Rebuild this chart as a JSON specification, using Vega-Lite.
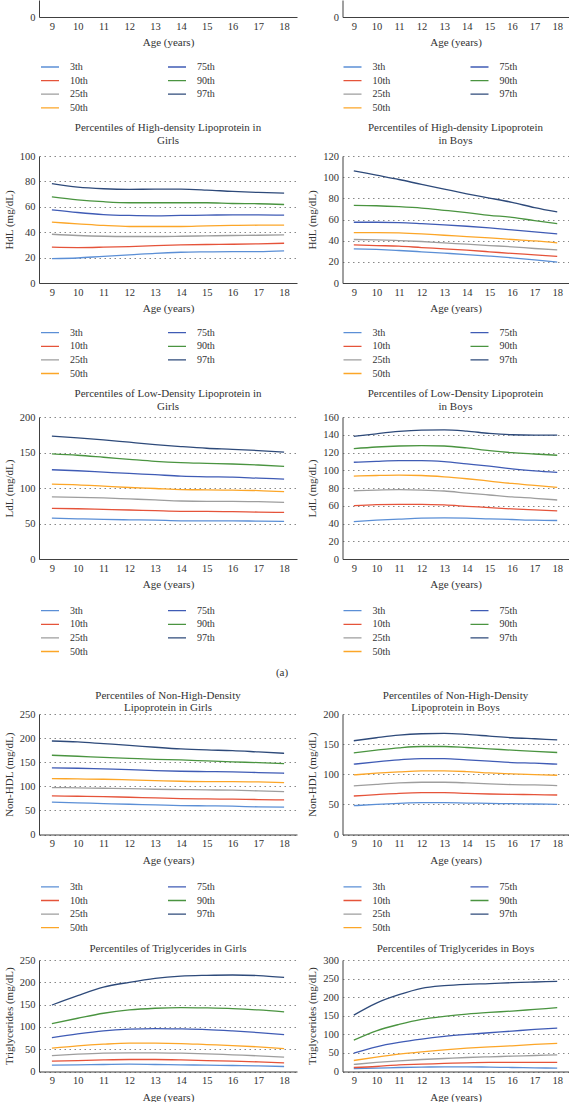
{
"$schema": "https://vega.github.io/schema/vega-lite/v6.json",
"padding": {"left": 3, "top": 0, "right": 0, "bottom": 0},
"background": "white",
"config": {
  "view": {"stroke": null},
  "font": "Liberation Serif",
  "line": {"interpolate": "monotone", "strokeWidth": 1.3},
  "title": {"font": "Liberation Serif", "fontSize": 11, "fontWeight": "normal", "color": "#333333", "lineHeight": 12.7, "anchor": "middle"},
  "axis": {"labelFont": "Liberation Serif", "titleFont": "Liberation Serif", "labelFontSize": 10.5, "titleFontSize": 11, "titleFontWeight": "normal", "labelColor": "#333333", "titleColor": "#333333", "ticks": false, "domainColor": "#404040", "labelPadding": 4, "titlePadding": 5},
  "axisX": {"grid": false, "labelAngle": 0, "domainWidth": 1.2},
  "axisY": {"grid": true, "gridDash": [1.5, 3.5], "gridColor": "#888888", "domainWidth": 1},
  "legend": {"orient": "none", "columns": 2, "symbolType": "stroke", "symbolSize": 324, "symbolStrokeWidth": 1.6, "labelFont": "Liberation Serif", "labelFontSize": 10, "labelColor": "#333333", "clipHeight": 10, "rowPadding": 3.6, "columnPadding": 79, "labelOffset": 10, "padding": 0}
},
"datasets": {
"top": [],
"hdl_g": [
{"age":9,"p":"3th","v":19.2},{"age":10,"p":"3th","v":19.7},{"age":11,"p":"3th","v":21},{"age":12,"p":"3th","v":22.1},{"age":13,"p":"3th","v":23.4},{"age":14,"p":"3th","v":24.2},{"age":15,"p":"3th","v":24.5},{"age":16,"p":"3th","v":24.7},{"age":17,"p":"3th","v":24.7},{"age":18,"p":"3th","v":25.3},
{"age":9,"p":"10th","v":28.2},{"age":10,"p":"10th","v":27.9},{"age":11,"p":"10th","v":28.2},{"age":12,"p":"10th","v":28.7},{"age":13,"p":"10th","v":29.5},{"age":14,"p":"10th","v":30},{"age":15,"p":"10th","v":30.3},{"age":16,"p":"10th","v":30.5},{"age":17,"p":"10th","v":30.8},{"age":18,"p":"10th","v":31.3},
{"age":9,"p":"25th","v":38.4},{"age":10,"p":"25th","v":37.4},{"age":11,"p":"25th","v":36.8},{"age":12,"p":"25th","v":36.6},{"age":13,"p":"25th","v":36.6},{"age":14,"p":"25th","v":36.8},{"age":15,"p":"25th","v":37.1},{"age":16,"p":"25th","v":37.4},{"age":17,"p":"25th","v":37.6},{"age":18,"p":"25th","v":37.9},
{"age":9,"p":"50th","v":47.9},{"age":10,"p":"50th","v":46.6},{"age":11,"p":"50th","v":45.3},{"age":12,"p":"50th","v":44.5},{"age":13,"p":"50th","v":44.5},{"age":14,"p":"50th","v":44.5},{"age":15,"p":"50th","v":45},{"age":16,"p":"50th","v":45.3},{"age":17,"p":"50th","v":45.5},{"age":18,"p":"50th","v":45.5},
{"age":9,"p":"75th","v":57.6},{"age":10,"p":"75th","v":55.5},{"age":11,"p":"75th","v":53.9},{"age":12,"p":"75th","v":53.2},{"age":13,"p":"75th","v":52.9},{"age":14,"p":"75th","v":53.2},{"age":15,"p":"75th","v":53.4},{"age":16,"p":"75th","v":53.7},{"age":17,"p":"75th","v":53.7},{"age":18,"p":"75th","v":53.4},
{"age":9,"p":"90th","v":67.9},{"age":10,"p":"90th","v":65.5},{"age":11,"p":"90th","v":64},{"age":12,"p":"90th","v":63.2},{"age":13,"p":"90th","v":63.2},{"age":14,"p":"90th","v":63.2},{"age":15,"p":"90th","v":63.2},{"age":16,"p":"90th","v":62.6},{"age":17,"p":"90th","v":62.4},{"age":18,"p":"90th","v":61.8},
{"age":9,"p":"97th","v":78.2},{"age":10,"p":"97th","v":75.5},{"age":11,"p":"97th","v":74.2},{"age":12,"p":"97th","v":73.7},{"age":13,"p":"97th","v":73.9},{"age":14,"p":"97th","v":73.9},{"age":15,"p":"97th","v":73.2},{"age":16,"p":"97th","v":72.1},{"age":17,"p":"97th","v":71.3},{"age":18,"p":"97th","v":70.8}
],
"hdl_b": [
{"age":9,"p":"3th","v":32.3},{"age":10,"p":"3th","v":31.7},{"age":11,"p":"3th","v":30.7},{"age":12,"p":"3th","v":29.5},{"age":13,"p":"3th","v":28.2},{"age":14,"p":"3th","v":26.9},{"age":15,"p":"3th","v":25.4},{"age":16,"p":"3th","v":23.8},{"age":17,"p":"3th","v":21.9},{"age":18,"p":"3th","v":19.7},
{"age":9,"p":"10th","v":36.1},{"age":10,"p":"10th","v":35.4},{"age":11,"p":"10th","v":34.8},{"age":12,"p":"10th","v":33.5},{"age":13,"p":"10th","v":32.3},{"age":14,"p":"10th","v":31},{"age":15,"p":"10th","v":29.5},{"age":16,"p":"10th","v":27.9},{"age":17,"p":"10th","v":26.6},{"age":18,"p":"10th","v":25.1},
{"age":9,"p":"25th","v":41.1},{"age":10,"p":"25th","v":40.8},{"age":11,"p":"25th","v":40.1},{"age":12,"p":"25th","v":39.2},{"age":13,"p":"25th","v":37.9},{"age":14,"p":"25th","v":36.7},{"age":15,"p":"25th","v":35.4},{"age":16,"p":"25th","v":34.2},{"age":17,"p":"25th","v":32.6},{"age":18,"p":"25th","v":31.3},
{"age":9,"p":"50th","v":47.6},{"age":10,"p":"50th","v":47.6},{"age":11,"p":"50th","v":47.3},{"age":12,"p":"50th","v":46.4},{"age":13,"p":"50th","v":45.1},{"age":14,"p":"50th","v":43.9},{"age":15,"p":"50th","v":42.6},{"age":16,"p":"50th","v":41.1},{"age":17,"p":"50th","v":39.8},{"age":18,"p":"50th","v":37.9},
{"age":9,"p":"75th","v":57.4},{"age":10,"p":"75th","v":57.4},{"age":11,"p":"75th","v":57.1},{"age":12,"p":"75th","v":56.1},{"age":13,"p":"75th","v":54.9},{"age":14,"p":"75th","v":53.6},{"age":15,"p":"75th","v":52},{"age":16,"p":"75th","v":50.2},{"age":17,"p":"75th","v":48.3},{"age":18,"p":"75th","v":46.4},
{"age":9,"p":"90th","v":73.4},{"age":10,"p":"90th","v":73},{"age":11,"p":"90th","v":72.1},{"age":12,"p":"90th","v":70.8},{"age":13,"p":"90th","v":68.7},{"age":14,"p":"90th","v":66.5},{"age":15,"p":"90th","v":63.9},{"age":16,"p":"90th","v":62.1},{"age":17,"p":"90th","v":58.9},{"age":18,"p":"90th","v":56.1},
{"age":9,"p":"97th","v":106},{"age":10,"p":"97th","v":101.9},{"age":11,"p":"97th","v":97.8},{"age":12,"p":"97th","v":93.1},{"age":13,"p":"97th","v":88.7},{"age":14,"p":"97th","v":84.3},{"age":15,"p":"97th","v":80.3},{"age":16,"p":"97th","v":76.2},{"age":17,"p":"97th","v":71.2},{"age":18,"p":"97th","v":67.1}
],
"ldl_g": [
{"age":9,"p":"3th","v":57.6},{"age":10,"p":"3th","v":56.6},{"age":11,"p":"3th","v":55.7},{"age":12,"p":"3th","v":55.2},{"age":13,"p":"3th","v":54.8},{"age":14,"p":"3th","v":53.8},{"age":15,"p":"3th","v":53.8},{"age":16,"p":"3th","v":53.8},{"age":17,"p":"3th","v":53.3},{"age":18,"p":"3th","v":52.9},
{"age":9,"p":"10th","v":71.3},{"age":10,"p":"10th","v":70.8},{"age":11,"p":"10th","v":69.9},{"age":12,"p":"10th","v":69},{"age":13,"p":"10th","v":68},{"age":14,"p":"10th","v":67.1},{"age":15,"p":"10th","v":67.1},{"age":16,"p":"10th","v":66.6},{"age":17,"p":"10th","v":66.1},{"age":18,"p":"10th","v":65.6},
{"age":9,"p":"25th","v":87.4},{"age":10,"p":"25th","v":86.9},{"age":11,"p":"25th","v":86},{"age":12,"p":"25th","v":84.6},{"age":13,"p":"25th","v":83.2},{"age":14,"p":"25th","v":81.7},{"age":15,"p":"25th","v":81.3},{"age":16,"p":"25th","v":81.3},{"age":17,"p":"25th","v":80.8},{"age":18,"p":"25th","v":79.8},
{"age":9,"p":"50th","v":105.4},{"age":10,"p":"50th","v":104.5},{"age":11,"p":"50th","v":102.6},{"age":12,"p":"50th","v":100.7},{"age":13,"p":"50th","v":99.3},{"age":14,"p":"50th","v":97.8},{"age":15,"p":"50th","v":97.4},{"age":16,"p":"50th","v":96.9},{"age":17,"p":"50th","v":96.4},{"age":18,"p":"50th","v":95},
{"age":9,"p":"75th","v":125.7},{"age":10,"p":"75th","v":124.3},{"age":11,"p":"75th","v":122.4},{"age":12,"p":"75th","v":120.5},{"age":13,"p":"75th","v":118.7},{"age":14,"p":"75th","v":116.8},{"age":15,"p":"75th","v":115.8},{"age":16,"p":"75th","v":115.3},{"age":17,"p":"75th","v":113.9},{"age":18,"p":"75th","v":112.5},
{"age":9,"p":"90th","v":148},{"age":10,"p":"90th","v":146.1},{"age":11,"p":"90th","v":143.3},{"age":12,"p":"90th","v":140.4},{"age":13,"p":"90th","v":137.6},{"age":14,"p":"90th","v":135.7},{"age":15,"p":"90th","v":134.7},{"age":16,"p":"90th","v":133.8},{"age":17,"p":"90th","v":132.4},{"age":18,"p":"90th","v":130.5},
{"age":9,"p":"97th","v":173},{"age":10,"p":"97th","v":170.7},{"age":11,"p":"97th","v":167.9},{"age":12,"p":"97th","v":164.5},{"age":13,"p":"97th","v":161.2},{"age":14,"p":"97th","v":158.4},{"age":15,"p":"97th","v":156},{"age":16,"p":"97th","v":154.5},{"age":17,"p":"97th","v":152.7},{"age":18,"p":"97th","v":150.4}
],
"ldl_b": [
{"age":9,"p":"3th","v":42.2},{"age":10,"p":"3th","v":43.7},{"age":11,"p":"3th","v":44.9},{"age":12,"p":"3th","v":46},{"age":13,"p":"3th","v":46.3},{"age":14,"p":"3th","v":46},{"age":15,"p":"3th","v":45.2},{"age":16,"p":"3th","v":44.5},{"age":17,"p":"3th","v":43.7},{"age":18,"p":"3th","v":43.4},
{"age":9,"p":"10th","v":60.1},{"age":10,"p":"10th","v":61.3},{"age":11,"p":"10th","v":61.6},{"age":12,"p":"10th","v":61.6},{"age":13,"p":"10th","v":60.9},{"age":14,"p":"10th","v":59.4},{"age":15,"p":"10th","v":57.9},{"age":16,"p":"10th","v":56.4},{"age":17,"p":"10th","v":55.3},{"age":18,"p":"10th","v":54.2},
{"age":9,"p":"25th","v":76.9},{"age":10,"p":"25th","v":77.7},{"age":11,"p":"25th","v":78.1},{"age":12,"p":"25th","v":77.7},{"age":13,"p":"25th","v":76.6},{"age":14,"p":"25th","v":74.3},{"age":15,"p":"25th","v":72.1},{"age":16,"p":"25th","v":69.9},{"age":17,"p":"25th","v":68.4},{"age":18,"p":"25th","v":66.5},
{"age":9,"p":"50th","v":93.4},{"age":10,"p":"50th","v":94.1},{"age":11,"p":"50th","v":94.5},{"age":12,"p":"50th","v":94.1},{"age":13,"p":"50th","v":92.6},{"age":14,"p":"50th","v":90.4},{"age":15,"p":"50th","v":87.8},{"age":16,"p":"50th","v":85.1},{"age":17,"p":"50th","v":82.9},{"age":18,"p":"50th","v":80.7},
{"age":9,"p":"75th","v":109},{"age":10,"p":"75th","v":110.1},{"age":11,"p":"75th","v":110.9},{"age":12,"p":"75th","v":110.9},{"age":13,"p":"75th","v":109.8},{"age":14,"p":"75th","v":107.2},{"age":15,"p":"75th","v":104.6},{"age":16,"p":"75th","v":101.6},{"age":17,"p":"75th","v":99.3},{"age":18,"p":"75th","v":97.5},
{"age":9,"p":"90th","v":124.3},{"age":10,"p":"90th","v":126.2},{"age":11,"p":"90th","v":127.3},{"age":12,"p":"90th","v":127.7},{"age":13,"p":"90th","v":127.3},{"age":14,"p":"90th","v":125.1},{"age":15,"p":"90th","v":122.1},{"age":16,"p":"90th","v":119.8},{"age":17,"p":"90th","v":118.3},{"age":18,"p":"90th","v":116.9},
{"age":9,"p":"97th","v":138.1},{"age":10,"p":"97th","v":141.1},{"age":11,"p":"97th","v":143.7},{"age":12,"p":"97th","v":145.2},{"age":13,"p":"97th","v":145.6},{"age":14,"p":"97th","v":144.1},{"age":15,"p":"97th","v":141.5},{"age":16,"p":"97th","v":140},{"age":17,"p":"97th","v":139.6},{"age":18,"p":"97th","v":139.6}
],
"nhdl_g": [
{"age":9,"p":"3th","v":67},{"age":10,"p":"3th","v":65.6},{"age":11,"p":"3th","v":64.2},{"age":12,"p":"3th","v":62.8},{"age":13,"p":"3th","v":61.5},{"age":14,"p":"3th","v":60.1},{"age":15,"p":"3th","v":59.4},{"age":16,"p":"3th","v":58.7},{"age":17,"p":"3th","v":57.3},{"age":18,"p":"3th","v":56.6},
{"age":9,"p":"10th","v":80.1},{"age":10,"p":"10th","v":79.4},{"age":11,"p":"10th","v":78.7},{"age":12,"p":"10th","v":77.3},{"age":13,"p":"10th","v":76},{"age":14,"p":"10th","v":74.6},{"age":15,"p":"10th","v":73.9},{"age":16,"p":"10th","v":73.2},{"age":17,"p":"10th","v":72.5},{"age":18,"p":"10th","v":71.8},
{"age":9,"p":"25th","v":97.4},{"age":10,"p":"25th","v":96.7},{"age":11,"p":"25th","v":96},{"age":12,"p":"25th","v":95.3},{"age":13,"p":"25th","v":93.9},{"age":14,"p":"25th","v":93.2},{"age":15,"p":"25th","v":92.5},{"age":16,"p":"25th","v":91.9},{"age":17,"p":"25th","v":90.5},{"age":18,"p":"25th","v":89.1},
{"age":9,"p":"50th","v":116},{"age":10,"p":"50th","v":115.3},{"age":11,"p":"50th","v":114.6},{"age":12,"p":"50th","v":113.3},{"age":13,"p":"50th","v":111.9},{"age":14,"p":"50th","v":110.5},{"age":15,"p":"50th","v":109.8},{"age":16,"p":"50th","v":109.8},{"age":17,"p":"50th","v":109.1},{"age":18,"p":"50th","v":107.7},
{"age":9,"p":"75th","v":138.1},{"age":10,"p":"75th","v":137.4},{"age":11,"p":"75th","v":136},{"age":12,"p":"75th","v":134.7},{"age":13,"p":"75th","v":132.6},{"age":14,"p":"75th","v":131.2},{"age":15,"p":"75th","v":130.5},{"age":16,"p":"75th","v":129.8},{"age":17,"p":"75th","v":128.5},{"age":18,"p":"75th","v":127.1},
{"age":9,"p":"90th","v":164.4},{"age":10,"p":"90th","v":162.3},{"age":11,"p":"90th","v":160.2},{"age":12,"p":"90th","v":158.1},{"age":13,"p":"90th","v":156},{"age":14,"p":"90th","v":154.7},{"age":15,"p":"90th","v":152.6},{"age":16,"p":"90th","v":150.6},{"age":17,"p":"90th","v":149.2},{"age":18,"p":"90th","v":147.1},
{"age":9,"p":"97th","v":194},{"age":10,"p":"97th","v":192},{"age":11,"p":"97th","v":188.5},{"age":12,"p":"97th","v":185},{"age":13,"p":"97th","v":181},{"age":14,"p":"97th","v":177.5},{"age":15,"p":"97th","v":175.4},{"age":16,"p":"97th","v":174},{"age":17,"p":"97th","v":171.3},{"age":18,"p":"97th","v":168.5}
],
"nhdl_b": [
{"age":9,"p":"3th","v":47.8},{"age":10,"p":"3th","v":50},{"age":11,"p":"3th","v":51.7},{"age":12,"p":"3th","v":52.8},{"age":13,"p":"3th","v":52.8},{"age":14,"p":"3th","v":52.2},{"age":15,"p":"3th","v":51.7},{"age":16,"p":"3th","v":51.1},{"age":17,"p":"3th","v":50.6},{"age":18,"p":"3th","v":50},
{"age":9,"p":"10th","v":63.9},{"age":10,"p":"10th","v":66.1},{"age":11,"p":"10th","v":68.3},{"age":12,"p":"10th","v":69.4},{"age":13,"p":"10th","v":69.4},{"age":14,"p":"10th","v":68.3},{"age":15,"p":"10th","v":67.2},{"age":16,"p":"10th","v":66.7},{"age":17,"p":"10th","v":66.1},{"age":18,"p":"10th","v":65.6},
{"age":9,"p":"25th","v":80.6},{"age":10,"p":"25th","v":83.3},{"age":11,"p":"25th","v":85.6},{"age":12,"p":"25th","v":86.7},{"age":13,"p":"25th","v":86.7},{"age":14,"p":"25th","v":85.6},{"age":15,"p":"25th","v":83.9},{"age":16,"p":"25th","v":82.8},{"age":17,"p":"25th","v":82.2},{"age":18,"p":"25th","v":81.1},
{"age":9,"p":"50th","v":98.9},{"age":10,"p":"50th","v":101.7},{"age":11,"p":"50th","v":103.9},{"age":12,"p":"50th","v":105.6},{"age":13,"p":"50th","v":105.6},{"age":14,"p":"50th","v":104.4},{"age":15,"p":"50th","v":102.2},{"age":16,"p":"50th","v":100.6},{"age":17,"p":"50th","v":99.4},{"age":18,"p":"50th","v":98.3},
{"age":9,"p":"75th","v":116.7},{"age":10,"p":"75th","v":120.6},{"age":11,"p":"75th","v":123.9},{"age":12,"p":"75th","v":126.1},{"age":13,"p":"75th","v":126.1},{"age":14,"p":"75th","v":123.9},{"age":15,"p":"75th","v":121.7},{"age":16,"p":"75th","v":119.4},{"age":17,"p":"75th","v":118.3},{"age":18,"p":"75th","v":116.7},
{"age":9,"p":"90th","v":135.6},{"age":10,"p":"90th","v":140},{"age":11,"p":"90th","v":143.9},{"age":12,"p":"90th","v":146.1},{"age":13,"p":"90th","v":146.1},{"age":14,"p":"90th","v":144.4},{"age":15,"p":"90th","v":142.2},{"age":16,"p":"90th","v":140},{"age":17,"p":"90th","v":137.8},{"age":18,"p":"90th","v":136.1},
{"age":9,"p":"97th","v":155.6},{"age":10,"p":"97th","v":160.6},{"age":11,"p":"97th","v":165},{"age":12,"p":"97th","v":167.2},{"age":13,"p":"97th","v":167.8},{"age":14,"p":"97th","v":166.1},{"age":15,"p":"97th","v":163.3},{"age":16,"p":"97th","v":160.6},{"age":17,"p":"97th","v":158.9},{"age":18,"p":"97th","v":157.2}
],
"tg_g": [
{"age":9,"p":"3th","v":14.2},{"age":10,"p":"3th","v":14.9},{"age":11,"p":"3th","v":15.7},{"age":12,"p":"3th","v":16.4},{"age":13,"p":"3th","v":15.7},{"age":14,"p":"3th","v":14.9},{"age":15,"p":"3th","v":14.2},{"age":16,"p":"3th","v":13.4},{"age":17,"p":"3th","v":12.7},{"age":18,"p":"3th","v":11.2},
{"age":9,"p":"10th","v":23.1},{"age":10,"p":"10th","v":24.6},{"age":11,"p":"10th","v":26.1},{"age":12,"p":"10th","v":26.9},{"age":13,"p":"10th","v":26.9},{"age":14,"p":"10th","v":26.1},{"age":15,"p":"10th","v":24.6},{"age":16,"p":"10th","v":23.1},{"age":17,"p":"10th","v":21.6},{"age":18,"p":"10th","v":19.4},
{"age":9,"p":"25th","v":35.8},{"age":10,"p":"25th","v":38.8},{"age":11,"p":"25th","v":41},{"age":12,"p":"25th","v":41.8},{"age":13,"p":"25th","v":41.8},{"age":14,"p":"25th","v":41},{"age":15,"p":"25th","v":39.6},{"age":16,"p":"25th","v":37.3},{"age":17,"p":"25th","v":35.1},{"age":18,"p":"25th","v":32.1},
{"age":9,"p":"50th","v":52.2},{"age":10,"p":"50th","v":57.5},{"age":11,"p":"50th","v":61.2},{"age":12,"p":"50th","v":63.4},{"age":13,"p":"50th","v":63.4},{"age":14,"p":"50th","v":62.7},{"age":15,"p":"50th","v":60.4},{"age":16,"p":"50th","v":58.2},{"age":17,"p":"50th","v":55.2},{"age":18,"p":"50th","v":51.5},
{"age":9,"p":"75th","v":76.1},{"age":10,"p":"75th","v":84.3},{"age":11,"p":"75th","v":91},{"age":12,"p":"75th","v":94.8},{"age":13,"p":"75th","v":96.3},{"age":14,"p":"75th","v":95.5},{"age":15,"p":"75th","v":94},{"age":16,"p":"75th","v":91},{"age":17,"p":"75th","v":87.3},{"age":18,"p":"75th","v":82.8},
{"age":9,"p":"90th","v":107.5},{"age":10,"p":"90th","v":119.4},{"age":11,"p":"90th","v":130.6},{"age":12,"p":"90th","v":138},{"age":13,"p":"90th","v":141.8},{"age":14,"p":"90th","v":143.3},{"age":15,"p":"90th","v":142.5},{"age":16,"p":"90th","v":141},{"age":17,"p":"90th","v":138},{"age":18,"p":"90th","v":133.6},
{"age":9,"p":"97th","v":149},{"age":10,"p":"97th","v":170},{"age":11,"p":"97th","v":189},{"age":12,"p":"97th","v":200},{"age":13,"p":"97th","v":209},{"age":14,"p":"97th","v":214},{"age":15,"p":"97th","v":215.7},{"age":16,"p":"97th","v":216.4},{"age":17,"p":"97th","v":215},{"age":18,"p":"97th","v":211}
],
"tg_b": [
{"age":9,"p":"3th","v":8.1},{"age":10,"p":"3th","v":9},{"age":11,"p":"3th","v":10.8},{"age":12,"p":"3th","v":11.7},{"age":13,"p":"3th","v":12.6},{"age":14,"p":"3th","v":12.6},{"age":15,"p":"3th","v":11.7},{"age":16,"p":"3th","v":10.8},{"age":17,"p":"3th","v":9.9},{"age":18,"p":"3th","v":9},
{"age":9,"p":"10th","v":10.8},{"age":10,"p":"10th","v":13.5},{"age":11,"p":"10th","v":18},{"age":12,"p":"10th","v":19.8},{"age":13,"p":"10th","v":21.6},{"age":14,"p":"10th","v":23.4},{"age":15,"p":"10th","v":24.3},{"age":16,"p":"10th","v":24.3},{"age":17,"p":"10th","v":24.3},{"age":18,"p":"10th","v":24.3},
{"age":9,"p":"25th","v":18.9},{"age":10,"p":"25th","v":24.3},{"age":11,"p":"25th","v":28.8},{"age":12,"p":"25th","v":32.3},{"age":13,"p":"25th","v":35},{"age":14,"p":"25th","v":37.7},{"age":15,"p":"25th","v":39.5},{"age":16,"p":"25th","v":41.3},{"age":17,"p":"25th","v":43.1},{"age":18,"p":"25th","v":44.9},
{"age":9,"p":"50th","v":29.6},{"age":10,"p":"50th","v":38.6},{"age":11,"p":"50th","v":46.7},{"age":12,"p":"50th","v":53},{"age":13,"p":"50th","v":58.4},{"age":14,"p":"50th","v":62.9},{"age":15,"p":"50th","v":66.5},{"age":16,"p":"50th","v":69.2},{"age":17,"p":"50th","v":72.8},{"age":18,"p":"50th","v":75.5},
{"age":9,"p":"75th","v":49.4},{"age":10,"p":"75th","v":66.5},{"age":11,"p":"75th","v":78.2},{"age":12,"p":"75th","v":87.2},{"age":13,"p":"75th","v":94.3},{"age":14,"p":"75th","v":99.7},{"age":15,"p":"75th","v":104.2},{"age":16,"p":"75th","v":108.7},{"age":17,"p":"75th","v":113.2},{"age":18,"p":"75th","v":116.8},
{"age":9,"p":"90th","v":84.5},{"age":10,"p":"90th","v":109.6},{"age":11,"p":"90th","v":126.7},{"age":12,"p":"90th","v":140.2},{"age":13,"p":"90th","v":148.2},{"age":14,"p":"90th","v":154.5},{"age":15,"p":"90th","v":159},{"age":16,"p":"90th","v":162.6},{"age":17,"p":"90th","v":167.1},{"age":18,"p":"90th","v":171.6},
{"age":9,"p":"97th","v":151.8},{"age":10,"p":"97th","v":184.2},{"age":11,"p":"97th","v":206.6},{"age":12,"p":"97th","v":223.7},{"age":13,"p":"97th","v":230.9},{"age":14,"p":"97th","v":234.5},{"age":15,"p":"97th","v":236.3},{"age":16,"p":"97th","v":239},{"age":17,"p":"97th","v":240.8},{"age":18,"p":"97th","v":242.6}
]
},
"spacing": 2,
"resolve": {"scale": {"color": "independent"}, "legend": {"color": "independent"}},
"vconcat": [
{
"columns": 2, "align": "each", "spacing": {"row": 9, "column": 9.5},
"resolve": {"scale": {"color": "independent", "x": "independent", "y": "independent"}, "legend": {"color": "independent"}},
"concat": [
{"width": 258, "height": 17, "data": {"name": "top"}, "mark": "line",
 "encoding": {
  "x": {"field": "age", "type": "ordinal", "scale": {"type": "point", "padding": 0.5, "domain": [9,10,11,12,13,14,15,16,17,18]}, "axis": {"title": "Age (years)"}},
  "y": {"field": "v", "type": "quantitative", "scale": {"domain": [0, 100]}, "axis": {"values": [0], "title": null, "grid": false}},
  "color": {"field": "p", "type": "nominal", "scale": {"domain": ["3th","10th","25th","50th","75th","90th","97th"], "range": ["#5b8fd6","#e5533a","#9e9e9e","#fca628","#3f5bb5","#4a9440","#2e4a7a"]}, "legend": {"legendX": 1, "legendY": 62, "title": null}}
 }},
{"width": 226, "height": 17, "data": {"name": "top"}, "mark": "line",
 "encoding": {
  "x": {"field": "age", "type": "ordinal", "scale": {"type": "point", "padding": 0.5, "domain": [9,10,11,12,13,14,15,16,17,18]}, "axis": {"title": "Age (years)"}},
  "y": {"field": "v", "type": "quantitative", "scale": {"domain": [0, 100]}, "axis": {"values": [0], "title": null, "grid": false}},
  "color": {"field": "p", "type": "nominal", "scale": {"domain": ["3th","10th","25th","50th","75th","90th","97th"], "range": ["#5b8fd6","#e5533a","#9e9e9e","#fca628","#3f5bb5","#4a9440","#2e4a7a"]}, "legend": {"legendX": 0, "legendY": 62, "title": null}}
 }},
{"width": 258, "height": 127, "title": {"text": ["Percentiles of High-density Lipoprotein in", "Girls"], "offset": 5}, "data": {"name": "hdl_g"}, "mark": "line",
 "encoding": {
  "x": {"field": "age", "type": "ordinal", "scale": {"type": "point", "padding": 0.5, "domain": [9,10,11,12,13,14,15,16,17,18]}, "axis": {"title": "Age (years)"}},
  "y": {"field": "v", "type": "quantitative", "scale": {"domain": [0, 100]}, "axis": {"values": [0,20,40,60,80,100], "title": "HdL (mg/dL)"}},
  "color": {"field": "p", "type": "nominal", "scale": {"domain": ["3th","10th","25th","50th","75th","90th","97th"], "range": ["#5b8fd6","#e5533a","#9e9e9e","#fca628","#3f5bb5","#4a9440","#2e4a7a"]}, "legend": {"legendX": 1, "legendY": 171.7, "title": null}}
 }},
{"width": 226, "height": 127, "title": {"text": ["Percentiles of High-density Lipoprotein", "in Boys"], "offset": 5}, "data": {"name": "hdl_b"}, "mark": "line",
 "encoding": {
  "x": {"field": "age", "type": "ordinal", "scale": {"type": "point", "padding": 0.5, "domain": [9,10,11,12,13,14,15,16,17,18]}, "axis": {"title": "Age (years)"}},
  "y": {"field": "v", "type": "quantitative", "scale": {"domain": [0, 120]}, "axis": {"values": [0,20,40,60,80,100,120], "title": "HdL (mg/dL)"}},
  "color": {"field": "p", "type": "nominal", "scale": {"domain": ["3th","10th","25th","50th","75th","90th","97th"], "range": ["#5b8fd6","#e5533a","#9e9e9e","#fca628","#3f5bb5","#4a9440","#2e4a7a"]}, "legend": {"legendX": 0, "legendY": 171.7, "title": null}}
 }},
{"width": 258, "height": 142, "title": {"text": ["Percentiles of Low-Density Lipoprotein in", "Girls"], "offset": 0.2}, "data": {"name": "ldl_g"}, "mark": "line",
 "encoding": {
  "x": {"field": "age", "type": "ordinal", "scale": {"type": "point", "padding": 0.5, "domain": [9,10,11,12,13,14,15,16,17,18]}, "axis": {"title": "Age (years)"}},
  "y": {"field": "v", "type": "quantitative", "scale": {"domain": [0, 200]}, "axis": {"values": [0,50,100,150,200], "title": "LdL (mg/dL)"}},
  "color": {"field": "p", "type": "nominal", "scale": {"domain": ["3th","10th","25th","50th","75th","90th","97th"], "range": ["#5b8fd6","#e5533a","#9e9e9e","#fca628","#3f5bb5","#4a9440","#2e4a7a"]}, "legend": {"legendX": 1, "legendY": 188.7, "title": null}}
 }},
{"width": 226, "height": 142, "title": {"text": ["Percentiles of Low-Density Lipoprotein", "in Boys"], "offset": 0.2}, "data": {"name": "ldl_b"}, "mark": "line",
 "encoding": {
  "x": {"field": "age", "type": "ordinal", "scale": {"type": "point", "padding": 0.5, "domain": [9,10,11,12,13,14,15,16,17,18]}, "axis": {"title": "Age (years)"}},
  "y": {"field": "v", "type": "quantitative", "scale": {"domain": [0, 160]}, "axis": {"values": [0,20,40,60,80,100,120,140,160], "title": "LdL (mg/dL)"}},
  "color": {"field": "p", "type": "nominal", "scale": {"domain": ["3th","10th","25th","50th","75th","90th","97th"], "range": ["#5b8fd6","#e5533a","#9e9e9e","#fca628","#3f5bb5","#4a9440","#2e4a7a"]}, "legend": {"legendX": 0, "legendY": 188.7, "title": null}}
 }}
]
},
{"width": 486, "height": 28, "data": {"values": [{"t": "(a)"}]}, "mark": {"type": "text", "font": "Liberation Serif", "fontSize": 11, "color": "#333333"}, "encoding": {"text": {"field": "t"}}},
{
"columns": 2, "align": "each", "spacing": {"row": 9, "column": 9.5},
"resolve": {"scale": {"color": "independent", "x": "independent", "y": "independent"}, "legend": {"color": "independent"}},
"concat": [
{"width": 258, "height": 120.5, "title": {"text": ["Percentiles of Non-High-Density", "Lipoprotein in Girls"], "offset": -4.5}, "data": {"name": "nhdl_g"}, "mark": "line",
 "encoding": {
  "x": {"field": "age", "type": "ordinal", "scale": {"type": "point", "padding": 0.5, "domain": [9,10,11,12,13,14,15,16,17,18]}, "axis": {"title": "Age (years)"}},
  "y": {"field": "v", "type": "quantitative", "scale": {"domain": [0, 250]}, "axis": {"values": [0,50,100,150,200,250], "title": "Non-HDL (mg/dL)"}},
  "color": {"field": "p", "type": "nominal", "scale": {"domain": ["3th","10th","25th","50th","75th","90th","97th"], "range": ["#5b8fd6","#e5533a","#9e9e9e","#fca628","#3f5bb5","#4a9440","#2e4a7a"]}, "legend": {"legendX": 1, "legendY": 167.9, "title": null}}
 }},
{"width": 226, "height": 120.5, "title": {"text": ["Percentiles of Non-High-Density", "Lipoprotein in Boys"], "offset": -4.5}, "data": {"name": "nhdl_b"}, "mark": "line",
 "encoding": {
  "x": {"field": "age", "type": "ordinal", "scale": {"type": "point", "padding": 0.5, "domain": [9,10,11,12,13,14,15,16,17,18]}, "axis": {"title": "Age (years)"}},
  "y": {"field": "v", "type": "quantitative", "scale": {"domain": [0, 200]}, "axis": {"values": [0,50,100,150,200], "title": "Non-HDL (mg/dL)"}},
  "color": {"field": "p", "type": "nominal", "scale": {"domain": ["3th","10th","25th","50th","75th","90th","97th"], "range": ["#5b8fd6","#e5533a","#9e9e9e","#fca628","#3f5bb5","#4a9440","#2e4a7a"]}, "legend": {"legendX": 0, "legendY": 167.9, "title": null}}
 }},
{"width": 258, "height": 111.5, "title": {"text": "Percentiles of Triglycerides in Girls", "offset": 1.5}, "data": {"name": "tg_g"}, "mark": "line",
 "encoding": {
  "x": {"field": "age", "type": "ordinal", "scale": {"type": "point", "padding": 0.5, "domain": [9,10,11,12,13,14,15,16,17,18]}, "axis": {"title": "Age (years)"}},
  "y": {"field": "v", "type": "quantitative", "scale": {"domain": [0, 250]}, "axis": {"values": [0,50,100,150,200,250], "title": "Triglycerides (mg/dL)"}},
  "color": {"field": "p", "type": "nominal", "scale": {"domain": ["3th","10th","25th","50th","75th","90th","97th"], "range": ["#5b8fd6","#e5533a","#9e9e9e","#fca628","#3f5bb5","#4a9440","#2e4a7a"]}, "legend": null}
 }},
{"width": 226, "height": 111.5, "title": {"text": "Percentiles of Triglycerides in Boys", "offset": 1.5}, "data": {"name": "tg_b"}, "mark": "line",
 "encoding": {
  "x": {"field": "age", "type": "ordinal", "scale": {"type": "point", "padding": 0.5, "domain": [9,10,11,12,13,14,15,16,17,18]}, "axis": {"title": "Age (years)"}},
  "y": {"field": "v", "type": "quantitative", "scale": {"domain": [0, 300]}, "axis": {"values": [0,50,100,150,200,250,300], "title": "Triglycerides (mg/dL)"}},
  "color": {"field": "p", "type": "nominal", "scale": {"domain": ["3th","10th","25th","50th","75th","90th","97th"], "range": ["#5b8fd6","#e5533a","#9e9e9e","#fca628","#3f5bb5","#4a9440","#2e4a7a"]}, "legend": null}
 }}
]
}
]
}
